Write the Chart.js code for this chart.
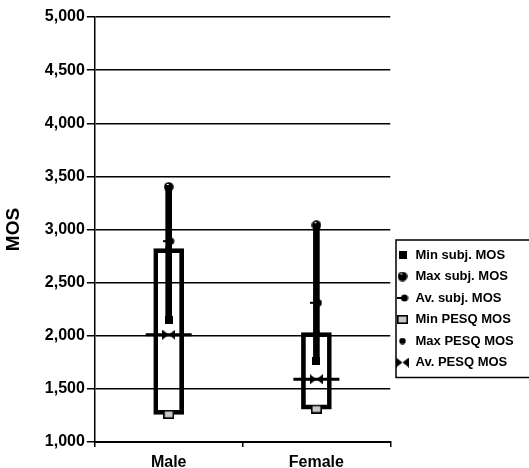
<!DOCTYPE html>
<html>
<head>
<meta charset="utf-8">
<script src="https://cdn.jsdelivr.net/npm/chart.js@4.4.1/dist/chart.umd.min.js"></script>
<style>
  html, body { margin: 0; padding: 0; background: #fff; }
  #wrap { width: 529px; height: 468px; }
</style>
</head>
<body>
<div id="wrap"><canvas id="mos"></canvas></div>
<script>
// values (MOS scale)
const categories = ['Male', 'Female'];
const minSubj = [2.15, 1.76];
const maxSubj = [3.40, 3.04];
const avSubj = [2.89, 2.31];
const minPesq = [1.26, 1.31];
const maxPesq = [2.82, 2.03];
const avPesq = [2.01, 1.59];
const seriesNames = ['Min subj. MOS', 'Max subj. MOS', 'Av. subj. MOS',
                     'Min PESQ MOS', 'Max PESQ MOS', 'Av. PESQ MOS'];
const yTicks = [1, 1.5, 2, 2.5, 3, 3.5, 4, 4.5, 5];

const FONT = '"Liberation Sans", Arial, sans-serif';

// small canvases used as point styles, so chart and legend share them
function sprite(w, h, paint) {
    const c = document.createElement('canvas');
    c.width = w; c.height = h;
    const g = c.getContext('2d');
    g.fillStyle = '#000';
    g.strokeStyle = '#000';
    paint(g);
    return c;
}

const squareMark = sprite(8, 8, g => g.fillRect(0, 0, 8, 8));
const bigDot = sprite(10, 10, g => {
    g.beginPath(); g.arc(5, 5, 4.8, 0, Math.PI * 2); g.fill();
    g.fillStyle = '#fff';
    g.fillRect(3, 2, 2, 1);
});
const dotTail = sprite(12, 8, g => {
    g.fillRect(0, 3, 7, 2);
    g.beginPath(); g.arc(8, 4, 3.5, 0, Math.PI * 2); g.fill();
});
const greyBox = sprite(11, 9, g => {
    g.fillStyle = '#c8c8c8';
    g.fillRect(1, 1, 9, 7);
    g.lineWidth = 1.6;
    g.strokeRect(0.8, 0.8, 9.4, 7.4);
});
const smallDot = sprite(7, 7, g => {
    g.beginPath(); g.arc(3.5, 3.5, 3.2, 0, Math.PI * 2); g.fill();
});
const bowtie = sprite(13, 10, g => {
    g.beginPath(); g.moveTo(0, 0); g.lineTo(6.5, 5); g.lineTo(0, 10); g.closePath(); g.fill();
    g.beginPath(); g.moveTo(13, 0); g.lineTo(6.5, 5); g.lineTo(13, 10); g.closePath(); g.fill();
});

const pair = (a, b) => a.map((v, i) => [v, b[i]]);

// park the legend right of the plot and put a frame round it
const legendFrame = {
    id: 'legendFrame',
    afterLayout(chart) {
        const lg = chart.legend;
        const pad = lg.options.labels.padding;
        const h = lg.columnSizes[0].height + pad;
        const w = lg.width;
        lg.top = 240; lg.bottom = 240 + h;
        lg.left = 396 - pad; lg.right = lg.left + w;
    },
    afterDraw(chart) {
        const lg = chart.legend;
        const pad = lg.options.labels.padding;
        const ctx = chart.ctx;
        ctx.save();
        ctx.strokeStyle = '#000';
        ctx.lineWidth = 1.5;
        ctx.strokeRect(lg.left + pad, lg.top, chart.width - lg.left - pad + 2, lg.bottom - lg.top);
        ctx.restore();
    }
};

const marker = (label, data, style, radius, extra) => Object.assign({
    type: 'line',
    label: label,
    data: data,
    showLine: false,
    pointStyle: style,
    pointRadius: radius,
    pointHoverRadius: radius,
    backgroundColor: '#000',
    borderColor: '#000',
    borderWidth: 1,
    order: 0
}, extra || {});

const datasets = [
    marker(seriesNames[0], minSubj, squareMark, 4),
    marker(seriesNames[1], maxSubj, bigDot, 5),
    marker(seriesNames[2], avSubj, dotTail, 5),
    marker(seriesNames[3], minPesq, greyBox, 5),
    marker(seriesNames[4], maxPesq, smallDot, 3),
    marker(seriesNames[5], avPesq, bowtie, 6),
    // horizontal dash through the average PESQ marker
    marker('avDash', avPesq, 'line', 23, { borderWidth: 3, order: 1 }),
    {
        type: 'bar',
        label: 'subjRange',
        data: pair(minSubj, maxSubj),
        backgroundColor: '#000',
        borderWidth: 0,
        barThickness: 6,
        grouped: false,
        order: 2
    },
    {
        type: 'bar',
        label: 'pesqBox',
        data: pair(minPesq, maxPesq),
        backgroundColor: 'rgba(0,0,0,0)',
        borderColor: '#000',
        borderWidth: 4,
        borderSkipped: false,
        barThickness: 30,
        grouped: false,
        order: 3
    }
];

new Chart(document.getElementById('mos'), {
    type: 'bar',
    data: { labels: categories, datasets: datasets },
    options: {
        responsive: true,
        maintainAspectRatio: false,
        animation: false,
        events: [],
        layout: { autoPadding: false, padding: { top: 17, right: 9, left: 1, bottom: 0 } },
        plugins: {
            tooltip: { enabled: false },
            legend: {
                position: 'right',
                align: 'start',
                labels: {
                    usePointStyle: true,
                    color: '#000',
                    padding: 8.5,
                    font: { family: FONT, size: 13, weight: 'bold' },
                    filter: (item) => item.datasetIndex < seriesNames.length,
                    sort: (a, b) => a.datasetIndex - b.datasetIndex
                }
            }
        },
        scales: {
            x: {
                offset: true,
                afterFit: (scale) => { scale.height = 26; },
                grid: { drawOnChartArea: false, drawTicks: true, tickLength: 5, color: '#000', lineWidth: 1.5 },
                border: { display: true, color: '#000', width: 2 },
                ticks: { color: '#000', padding: 8, font: { family: FONT, size: 16, weight: 'bold', lineHeight: 1 } }
            },
            y: {
                min: 1,
                max: 5,
                afterBuildTicks: (axis) => { axis.ticks = yTicks.map(v => ({ value: v })); },
                grid: { color: '#000', lineWidth: 1.5, tickLength: 8 },
                border: { display: true, color: '#000', width: 1.5 },
                title: {
                    display: true,
                    text: 'MOS',
                    color: '#000',
                    padding: { top: 1, bottom: 18 },
                    font: { family: FONT, size: 19, weight: 'bold' }
                },
                ticks: {
                    color: '#000',
                    padding: 2,
                    font: { family: FONT, size: 16, weight: 'bold' },
                    callback: (v) => Number(v).toFixed(3).replace('.', ',')
                }
            }
        }
    },
    plugins: [legendFrame]
});
</script>
</body>
</html>
